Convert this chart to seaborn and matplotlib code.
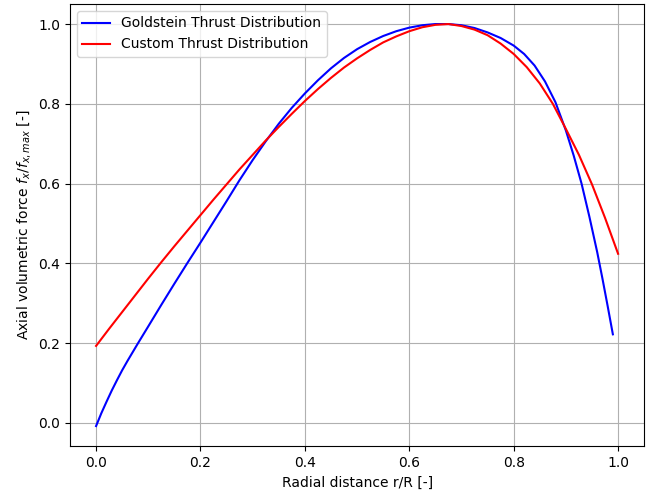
import matplotlib
matplotlib.use("Agg")
import matplotlib.pyplot as plt
import seaborn as sns
import pandas as pd

# Goldstein thrust distribution (normalised), sampled along r/R
goldstein_r = [0.000, 0.010, 0.020, 0.030, 0.040, 0.050, 0.060, 0.070, 0.080, 0.100,
               0.125, 0.150, 0.175, 0.200, 0.225, 0.250, 0.275, 0.300, 0.325, 0.350,
               0.375, 0.400, 0.425, 0.450, 0.475, 0.500, 0.525, 0.550, 0.575, 0.600,
               0.625, 0.650, 0.675, 0.700, 0.725, 0.750, 0.775, 0.800, 0.820, 0.840,
               0.860, 0.880, 0.900, 0.915, 0.930, 0.945, 0.960, 0.970, 0.980, 0.990]
goldstein_f = [-0.008, 0.024, 0.053, 0.081, 0.107, 0.132, 0.155, 0.177, 0.199, 0.242,
               0.296, 0.349, 0.401, 0.452, 0.504, 0.556, 0.609, 0.659, 0.706, 0.750,
               0.790, 0.826, 0.859, 0.889, 0.915, 0.937, 0.955, 0.970, 0.982, 0.991,
               0.997, 1.000, 1.000, 0.997, 0.990, 0.979, 0.965, 0.946, 0.925, 0.896,
               0.856, 0.804, 0.733, 0.670, 0.600, 0.517, 0.428, 0.362, 0.293, 0.222]

# Custom thrust distribution (normalised)
custom_r = [0.000, 0.025, 0.050, 0.075, 0.100, 0.125, 0.150, 0.175, 0.200, 0.225,
            0.250, 0.275, 0.300, 0.325, 0.350, 0.375, 0.400, 0.425, 0.450, 0.475,
            0.500, 0.525, 0.550, 0.575, 0.600, 0.625, 0.650, 0.675, 0.700, 0.725,
            0.750, 0.775, 0.800, 0.825, 0.850, 0.875, 0.900, 0.925, 0.950, 0.975,
            1.000]
custom_f = [0.193, 0.236, 0.278, 0.320, 0.362, 0.403, 0.443, 0.482, 0.521, 0.560,
            0.598, 0.636, 0.672, 0.708, 0.742, 0.775, 0.807, 0.837, 0.865, 0.891,
            0.914, 0.935, 0.954, 0.969, 0.982, 0.992, 0.998, 1.000, 0.995, 0.986,
            0.972, 0.951, 0.925, 0.892, 0.851, 0.800, 0.737, 0.672, 0.598, 0.514,
            0.424]

df_g = pd.DataFrame({"r": goldstein_r, "f": goldstein_f})
df_c = pd.DataFrame({"r": custom_r, "f": custom_f})

fig, ax = plt.subplots(figsize=(6.54, 4.93), dpi=100)
fig.subplots_adjust(left=0.107, right=0.985, top=0.992, bottom=0.095)

sns.lineplot(data=df_g, x="r", y="f", color="blue", linewidth=1.5,
             estimator=None, sort=False, label="Goldstein Thrust Distribution", ax=ax)
sns.lineplot(data=df_c, x="r", y="f", color="red", linewidth=1.5,
             estimator=None, sort=False, label="Custom Thrust Distribution", ax=ax)

ax.set_xlabel("Radial distance r/R [-]")
ax.set_ylabel(r"Axial volumetric force $f_x/f_{x,max}$ [-]")
ax.grid(True)
ax.legend(loc="upper left")

fig.savefig("out.png", dpi=100)
